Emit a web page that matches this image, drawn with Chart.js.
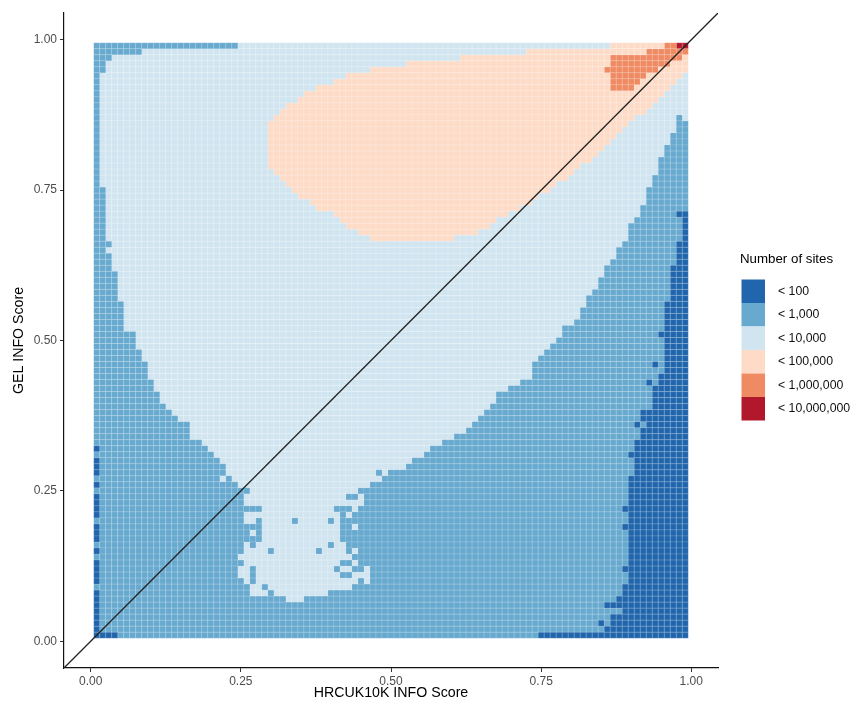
<!DOCTYPE html>
<html>
<head>
<meta charset="utf-8">
<title>GEL vs HRCUK10K INFO score</title>
<script src="https://cdn.jsdelivr.net/npm/chart.js@4.4.1/dist/chart.umd.min.js"></script>
<style>
  html, body { margin: 0; padding: 0; background: #fff; }
</style>
</head>
<body>
<canvas id="infoChart" width="854" height="704"></canvas>
<script>
// legend bins and their colours (RdBu)
const siteBins = ['< 100', '< 1,000', '< 10,000', '< 100,000', '< 1,000,000', '< 10,000,000'];
const binColours = ['#2166AC', '#67A9CF', '#D1E5F0', '#FDDBC7', '#EF8A62', '#B2182B'];
const tickValues = [0, 0.25, 0.5, 0.75, 1];
const axisRange = [-0.0445, 1.0445];
const binStep = 0.01;

// one string per GEL score row, 0.99 at top down to 0.01
// "bin@lastCol" runs along HRCUK10K columns 0.01..0.99
const rowRuns = [
  '1@24 2@86 3@95 4@97 5@99',
  '1@8 2@72 3@92 4@99',
  '1@3 2@61 3@86 4@98 3@99',
  '1@2 2@52 3@86 4@96 3@99',
  '1@2 2@46 3@85 4@94 3@99',
  '1@1 2@42 3@86 4@92 3@98 2@99',
  '1@1 2@40 3@86 4@91 3@97 2@99',
  '1@1 2@37 3@86 4@90 3@96 2@99',
  '1@1 2@35 3@95 2@99',
  '1@1 2@34 3@94 2@99',
  '1@1 2@32 3@93 2@99',
  '1@1 2@31 3@92 2@99',
  '1@1 2@30 3@90 2@97 1@98 2@99',
  '1@1 2@29 3@89 2@97 1@99',
  '1@1 2@29 3@88 2@97 1@99',
  '1@1 2@29 3@87 2@96 1@99',
  '1@1 2@29 3@86 2@96 1@99',
  '1@1 2@29 3@85 2@95 1@99',
  '1@1 2@29 3@84 2@95 1@99',
  '1@1 2@29 3@83 2@94 1@99',
  '1@1 2@29 3@81 2@94 1@99',
  '1@1 2@30 3@80 2@94 1@99',
  '1@1 2@31 3@79 2@93 1@99',
  '1@1 2@32 3@77 2@93 1@99',
  '1@2 2@33 3@76 2@92 1@99',
  '1@2 2@34 3@74 2@92 1@99',
  '1@2 2@36 3@73 2@92 1@99',
  '1@2 2@37 3@71 2@91 1@99',
  '1@2 2@40 3@69 2@91 1@97 0@99',
  '1@2 2@41 3@67 2@90 1@98 0@99',
  '1@2 2@42 3@66 2@89 1@98 0@99',
  '1@2 2@44 3@64 2@89 1@98 0@99',
  '1@2 2@46 3@60 2@89 1@98 0@99',
  '1@3 2@88 1@97 0@99',
  '1@2 2@87 1@97 0@99',
  '1@3 2@87 1@97 0@99',
  '1@3 2@86 1@97 0@99',
  '1@3 2@85 1@96 0@99',
  '1@4 2@85 1@96 0@99',
  '1@4 2@84 1@96 0@99',
  '1@4 2@84 1@96 0@99',
  '1@4 2@83 1@96 0@99',
  '1@4 2@82 1@96 0@99',
  '1@5 2@82 1@95 0@99',
  '1@5 2@81 1@95 0@99',
  '1@5 2@81 1@95 0@99',
  '1@5 2@80 1@95 0@99',
  '1@5 2@78 1@95 0@99',
  '1@7 2@78 1@94 0@99',
  '1@7 2@77 1@95 0@99',
  '1@7 2@76 1@95 0@99',
  '1@8 2@75 1@95 0@99',
  '1@8 2@74 1@95 0@99',
  '1@9 2@73 1@93 0@94 1@95 0@99',
  '1@9 2@73 1@95 0@99',
  '1@9 2@73 1@94 0@99',
  '1@10 2@71 1@92 0@93 1@94 0@99',
  '1@10 2@69 1@93 0@99',
  '1@11 2@67 1@93 0@99',
  '1@11 2@67 1@93 0@99',
  '1@12 2@66 1@93 0@99',
  '1@13 2@65 1@91 0@99',
  '1@14 2@64 1@91 0@99',
  '1@16 2@63 1@90 0@91 1@92 0@99',
  '1@16 2@62 1@91 0@99',
  '1@16 2@60 1@91 0@99',
  '1@18 2@58 1@90 0@99',
  '0@1 1@19 2@56 1@90 0@99',
  '1@20 2@55 1@89 0@99',
  '0@1 1@21 2@53 1@90 0@99',
  '0@1 1@22 2@52 1@90 0@99',
  '0@1 1@22 2@47 1@48 2@49 1@90 0@99',
  '1@21 2@22 1@23 2@48 1@89 0@99',
  '0@1 1@24 2@46 1@89 0@99',
  '1@26 2@44 1@89 0@99',
  '0@1 1@25 2@42 1@44 2@45 1@89 0@99',
  '0@1 1@25 2@45 1@89 0@99',
  '0@1 1@28 2@40 1@43 2@44 1@88 0@99',
  '0@1 1@25 2@41 1@42 2@43 1@89 0@99',
  '1@25 2@27 1@28 2@33 1@34 2@39 1@40 2@41 1@89 0@99',
  '0@1 1@28 2@41 1@43 2@44 1@88 0@99',
  '0@1 1@26 2@27 1@28 2@41 1@89 0@99',
  '0@1 1@28 2@41 1@89 0@99',
  '1@25 2@26 1@27 2@39 1@40 2@42 1@89 0@99',
  '0@1 1@25 2@29 1@30 2@37 1@38 2@42 1@43 2@44 1@89 0@99',
  '1@24 2@43 1@89 0@99',
  '0@1 1@25 2@41 1@43 2@44 1@89 0@99',
  '0@1 1@24 2@26 1@27 2@40 1@41 2@43 1@45 2@46 1@88 0@99',
  '0@1 1@24 2@26 1@27 2@41 1@43 2@46 1@89 0@99',
  '0@1 1@25 2@26 1@27 2@44 1@45 2@46 1@89 0@99',
  '1@26 2@28 1@29 2@43 1@88 0@99',
  '0@1 1@26 2@29 1@30 2@39 1@88 0@99',
  '0@1 1@32 2@35 1@87 0@99',
  '0@1 1@85 0@99',
  '0@1 1@88 0@99',
  '0@1 1@86 0@99',
  '0@1 1@84 0@85 1@86 0@99',
  '0@1 1@85 0@99',
  '0@4 1@74 0@99'
];

const fontFamily = '"Liberation Sans", Arial, Helvetica, sans-serif';

// unpack the runs into one list of cells per bin
const cells = siteBins.map(() => []);
rowRuns.forEach((row, r) => {
  const y = +((rowRuns.length - r) * binStep).toFixed(2);
  let col = 1;
  row.split(' ').forEach(run => {
    const [bin, last] = run.split('@').map(Number);
    for (; col <= last; col++) {
      cells[bin].push({x: +(col * binStep).toFixed(2), y: y});
    }
  });
});

// square side = one bin on the x scale; 'rect' points have side r*sqrt(2)
function cellRadius(ctx) {
  const xs = ctx.chart.scales.x;
  return Math.abs(xs.getPixelForValue(binStep) - xs.getPixelForValue(0)) / Math.SQRT2;
}

let heatSets = siteBins.map((label, b) => ({
  label: label,
  data: cells[b],
  backgroundColor: binColours[b],
  borderColor: 'rgba(255,255,255,0.28)',
  borderWidth: 0.5,
  pointStyle: 'rect',
  pointRadius: cellRadius,
  order: 1
}));

let identityLine = {
  label: 'y = x',
  data: axisRange.map(v => ({x: v, y: v})),
  showLine: true,
  borderColor: '#222',
  borderWidth: 1.3,
  pointRadius: 0,
  order: 0
};

// ggplot style legend drawn beside the panel
const binLegend = {
  id: 'binLegend',
  afterDraw(chart) {
    const ctx = chart.ctx;
    const area = chart.chartArea;
    const left = area.right + 23.5;
    const mid = (area.top + area.bottom) / 2;
    const keySize = 23.5;
    const top = mid - 61;
    ctx.save();
    ctx.textBaseline = 'middle';
    ctx.textAlign = 'left';
    ctx.fillStyle = '#000';
    ctx.font = '13.3px ' + fontFamily;
    ctx.fillText('Number of sites', left - 1.5, top - 20);
    ctx.font = '12.3px ' + fontFamily;
    siteBins.forEach((label, b) => {
      const y = top + b * keySize;
      ctx.fillStyle = binColours[b];
      ctx.fillRect(left, y, keySize, keySize);
      ctx.fillStyle = '#111';
      ctx.fillText(label, left + keySize + 13, y + keySize / 2);
    });
    ctx.restore();
  }
};

function axisOptions(title, isX) {
  return {
    type: 'linear',
    min: axisRange[0],
    max: axisRange[1],
    afterFit: s => { if (isX) s.height = 36; else s.width = 64; },
    afterBuildTicks: s => { s.ticks = tickValues.map(v => ({value: v})); },
    ticks: {
      callback: v => v.toFixed(2),
      color: '#4D4D4D',
      font: {size: 12, family: fontFamily},
      padding: isX ? 2 : 3,
      maxRotation: 0,
      autoSkip: false
    },
    grid: {drawOnChartArea: false, drawTicks: true, tickLength: 4, color: '#333', lineWidth: 1},
    border: {display: true, color: '#111', width: 1.2},
    title: {
      display: true,
      text: title,
      color: '#000',
      font: {size: 14.2, family: fontFamily},
      padding: isX ? {top: 0, bottom: 2} : {top: 11, bottom: 0}
    }
  };
}

const infoChart = new Chart(document.getElementById('infoChart'), {
  type: 'scatter',
  data: {datasets: [identityLine].concat(heatSets)},
  options: {
    responsive: false,
    animation: false,
    events: [],
    parsing: false,
    layout: {padding: {top: 13, right: 136, left: 0, bottom: 0}},
    plugins: {legend: {display: false}, tooltip: {enabled: false}},
    scales: {
      x: axisOptions('HRCUK10K INFO Score', true),
      y: axisOptions('GEL INFO Score', false)
    }
  },
  plugins: [binLegend]
});
</script>
</body>
</html>
